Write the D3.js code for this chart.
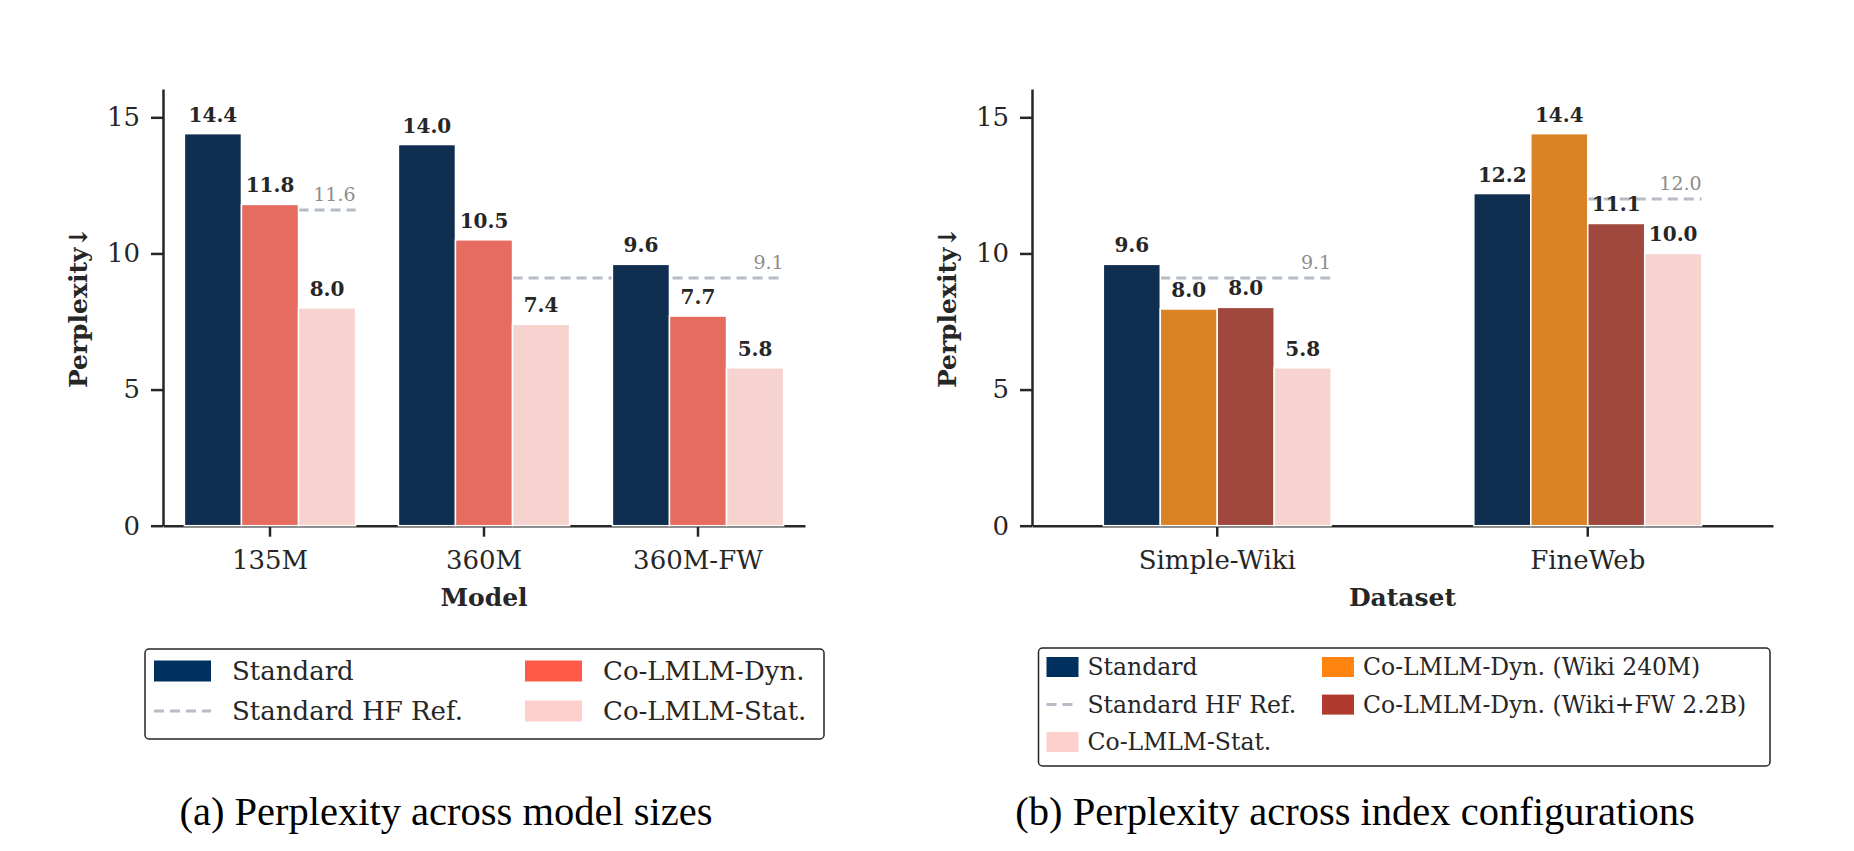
<!DOCTYPE html>
<html>
<head>
<meta charset="utf-8">
<script src="https://cdn.jsdelivr.net/npm/d3@7"></script>
<style>
  body { margin: 0; background: #fff; }
  svg { display: block; }
</style>
</head>
<body>
<div id="vis"></div>
<script>
// ---- data ----
var modelCats = ['135M', '360M', '360M-FW'];
var modelSeries = ['Standard', 'Co-LMLM-Dyn.', 'Co-LMLM-Stat.'];
var modelStandard = [14.4, 14.0, 9.6];
var modelDyn = [11.8, 10.5, 7.7];
var modelStat = [8.0, 7.4, 5.8];
// HF reference lines: value, and which bar slots they run across
var modelRefLines = [
    { value: 11.6, from: '135M', fromBar: 2, to: '135M', toBar: 2 },
    { value: 9.1, from: '360M', fromBar: 2, to: '360M-FW', toBar: 2 }
];

var dataCats = ['Simple-Wiki', 'FineWeb'];
var dataSeries = ['Standard', 'Co-LMLM-Dyn. (Wiki 240M)', 'Co-LMLM-Dyn. (Wiki+FW 2.2B)', 'Co-LMLM-Stat.'];
var dataStandard = [9.6, 12.2];
var dataDynWiki = [7.96, 14.4];
var dataDynWikiFW = [8.02, 11.1];
var dataStat = [5.8, 10.0];
var dataRefLines = [
    { value: 9.1, from: 'Simple-Wiki', fromBar: 1, to: 'Simple-Wiki', toBar: 3 },
    { value: 12.0, from: 'FineWeb', fromBar: 2, to: 'FineWeb', toBar: 3 }
];

var yTicks = [0, 5, 10, 15];
var yMax = 16.04;

// ---- styles ----
var ink = '#262626';
var serif = '"DejaVu Serif", serif';
var refColor = '#b5bcc5';

var svg = d3.select("#vis")
    .append("svg")
    .attr("width", 1854)
    .attr("height", 851);

var yScale = d3.scaleLinear()
    .domain([0, yMax])
    .range([525.7, 89]);

var makePanel = function (opts) {
    var g = svg.append("g").attr("font-family", serif);

    var xScale = d3.scaleBand()
        .domain(opts.cats)
        .range([opts.x0, opts.x1])
        .padding(0);

    var groupW = xScale.bandwidth() * opts.groupFrac;
    var inner = d3.scaleBand()
        .domain(d3.range(opts.series.length))
        .range([-groupW / 2, groupW / 2]);

    var barX = function (cat, i) {
        return xScale(cat) + xScale.bandwidth() / 2 + inner(i);
    };

    // y axis
    var yAxis = d3.axisLeft(yScale)
        .tickValues(yTicks)
        .tickSize(12)
        .tickSizeOuter(0)
        .tickPadding(11);
    var yg = g.append("g")
        .attr("transform", "translate(" + opts.x0 + ",0)")
        .call(yAxis);
    yg.select(".domain").attr("stroke", ink).attr("stroke-width", 2.5);
    yg.selectAll(".tick line").attr("stroke", ink).attr("stroke-width", 2.5);
    yg.selectAll(".tick text")
        .attr("fill", ink)
        .attr("font-size", 26)
        .attr("font-family", serif);

    // x axis sits at y = 0
    var xAxis = d3.axisBottom(xScale)
        .tickSize(11)
        .tickSizeOuter(0)
        .tickPadding(14);
    var xg = g.append("g")
        .attr("transform", "translate(0," + yScale(0) + ")")
        .call(xAxis);
    xg.select(".domain").attr("stroke", ink).attr("stroke-width", 2.5);
    xg.selectAll(".tick line").attr("stroke", ink).attr("stroke-width", 2.5);
    xg.selectAll(".tick text")
        .attr("fill", ink)
        .attr("font-size", 26)
        .attr("font-family", serif);

    // axis titles
    g.append("text")
        .attr("x", (opts.x0 + opts.x1) / 2)
        .attr("y", 606)
        .attr("text-anchor", "middle")
        .attr("font-size", 25)
        .attr("font-weight", "bold")
        .attr("fill", ink)
        .text(opts.xTitle);

    g.append("text")
        .attr("transform", "translate(" + (opts.x0 - 76) + "," + ((yScale(0) + yScale(yMax)) / 2) + ") rotate(-90)")
        .attr("text-anchor", "middle")
        .attr("font-size", 25)
        .attr("font-weight", "bold")
        .attr("fill", ink)
        .text("Perplexity\u2193");

    // reference lines (behind the bars)
    opts.refLines.forEach(function (r) {
        var xa = barX(r.from, r.fromBar);
        var xb = barX(r.to, r.toBar) + inner.bandwidth();
        g.append("line")
            .attr("x1", xa).attr("x2", xb)
            .attr("y1", yScale(r.value)).attr("y2", yScale(r.value))
            .attr("stroke", refColor)
            .attr("stroke-width", 3)
            .attr("stroke-dasharray", "10,6");
        g.append("text")
            .attr("x", xb)
            .attr("y", yScale(r.value) - 9)
            .attr("text-anchor", "end")
            .attr("font-size", 19)
            .attr("fill", "#8c8c8c")
            .text(d3.format(".1f")(r.value));
    });

    // bars
    opts.values.forEach(function (vals, i) {
        g.selectAll(".bar-" + i)
            .data(vals)
            .enter()
            .append("rect")
            .attr("class", "bar-" + i)
            .attr("x", function (d, j) { return barX(opts.cats[j], i); })
            .attr("width", inner.bandwidth())
            .attr("y", function (d) { return yScale(d); })
            .attr("height", function (d) { return yScale(0) - yScale(d); })
            .attr("fill", opts.barColors[i])
            .attr("fill-opacity", opts.barOpacity[i])
            .attr("stroke", "#fff")
            .attr("stroke-width", 1.5);
    });

    // value labels
    opts.values.forEach(function (vals, i) {
        g.selectAll(".lab-" + i)
            .data(vals)
            .enter()
            .append("text")
            .attr("class", "lab-" + i)
            .attr("x", function (d, j) { return barX(opts.cats[j], i) + inner.bandwidth() / 2; })
            .attr("y", function (d) { return yScale(d) - 12; })
            .attr("text-anchor", "middle")
            .attr("font-size", 20)
            .attr("font-weight", "bold")
            .attr("fill", ink)
            .text(function (d) { return d3.format(".1f")(d); });
    });
};

var makeLegend = function (L) {
    var g = svg.append("g").attr("font-family", serif);
    g.append("rect")
        .attr("x", L.x).attr("y", L.y)
        .attr("width", L.w).attr("height", L.h)
        .attr("rx", 4)
        .attr("fill", "#fff")
        .attr("stroke", ink)
        .attr("stroke-width", 1.5);

    L.items.forEach(function (it, k) {
        var col = Math.floor(k / L.rows), row = k % L.rows;
        var sx = L.colX[col], cy = L.rowY[row];
        if (it.type === 'dash') {
            g.append("line")
                .attr("x1", sx).attr("x2", sx + L.sw)
                .attr("y1", cy).attr("y2", cy)
                .attr("stroke", refColor)
                .attr("stroke-width", 3)
                .attr("stroke-dasharray", "10,6");
        } else {
            g.append("rect")
                .attr("x", sx).attr("y", cy - L.sh / 2)
                .attr("width", L.sw).attr("height", L.sh)
                .attr("fill", it.color);
        }
        g.append("text")
            .attr("x", sx + L.textDx)
            .attr("y", cy)
            .attr("dy", "0.35em")
            .attr("font-size", L.fontSize)
            .attr("fill", ink)
            .text(it.label);
    });
};

// panel (a)
makePanel({
    cats: modelCats,
    series: modelSeries,
    values: [modelStandard, modelDyn, modelStat],
    refLines: modelRefLines,
    barColors: ['#0f2e50', '#e76c60', '#efafa5'],
    barOpacity: [1, 1, 0.55],
    x0: 163, x1: 805,
    groupFrac: 0.8,
    xTitle: 'Model'
});

// panel (b)
makePanel({
    cats: dataCats,
    series: dataSeries,
    values: [dataStandard, dataDynWiki, dataDynWikiFW, dataStat],
    refLines: dataRefLines,
    barColors: ['#0f2e50', '#da8326', '#a0473e', '#efafa5'],
    barOpacity: [1, 1, 1, 0.55],
    x0: 1032, x1: 1773,
    groupFrac: 0.615,
    xTitle: 'Dataset'
});

makeLegend({
    x: 145, y: 649, w: 679, h: 90,
    rows: 2,
    colX: [154, 525], rowY: [671, 711],
    sw: 57, sh: 21, textDx: 78, fontSize: 26,
    items: [
        { label: modelSeries[0], color: '#00305e' },
        { label: 'Standard HF Ref.', type: 'dash' },
        { label: modelSeries[1], color: '#ff5a48' },
        { label: modelSeries[2], color: '#fdd0cb' }
    ]
});

makeLegend({
    x: 1038.5, y: 648, w: 731.5, h: 118,
    rows: 3,
    colX: [1046.5, 1322], rowY: [667, 704.6, 742],
    sw: 32, sh: 20, textDx: 41, fontSize: 23.5,
    items: [
        { label: dataSeries[0], color: '#00305e' },
        { label: 'Standard HF Ref.', type: 'dash' },
        { label: dataSeries[3], color: '#fdd0cb' },
        { label: dataSeries[1], color: '#ff8410' },
        { label: dataSeries[2], color: '#b03a2e' }
    ]
});

// captions
svg.append("text")
    .attr("x", 446).attr("y", 825)
    .attr("text-anchor", "middle")
    .attr("font-family", '"Liberation Serif", "Times New Roman", serif')
    .attr("font-size", 40.5)
    .attr("fill", "#000")
    .text("(a) Perplexity across model sizes");

svg.append("text")
    .attr("x", 1355).attr("y", 825)
    .attr("text-anchor", "middle")
    .attr("font-family", '"Liberation Serif", "Times New Roman", serif')
    .attr("font-size", 40.5)
    .attr("fill", "#000")
    .text("(b) Perplexity across index configurations");
</script>
</body>
</html>
